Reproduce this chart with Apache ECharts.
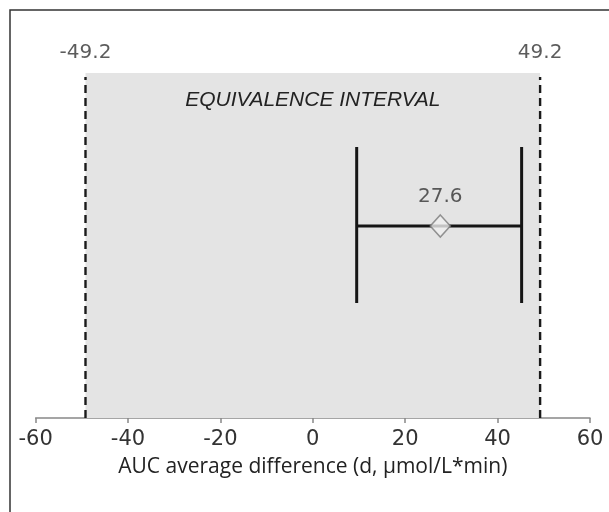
<!DOCTYPE html>
<html>
<head>
<meta charset="utf-8">
<script src="https://cdn.jsdelivr.net/npm/echarts@6/dist/echarts.min.js"></script>
<style>
html,body{margin:0;padding:0;background:#fff;}
#chart{width:609px;height:512px;}
</style>
</head>
<body>
<div id="chart"></div>
<script>
// ---- data ----
var xTicks = [-60, -40, -20, 0, 20, 40, 60];
var equivalenceBounds = [-49.2, 49.2];
var meanDifference = 27.6;
var ciBounds = [9.5, 45.2];
var intervalLabel = 'EQUIVALENCE INTERVAL';
var axisTitle = 'AUC average difference (d, \u03bcmol/L*min)';

// ---- layout (vertical positions on hidden 0..100 axis) ----
var LAYOUT = { boxTop: 86.25, dashTop: 85.25, boundLabel: 91.3, barTop: 67.75, barBottom: 28.75, barMid: 48 };

var chart = echarts.init(document.getElementById('chart'), null, {renderer: 'canvas'});

var numFont = 'DejaVu Sans';
var dashStyle = {color: '#1a1a1a', width: 2.4, type: [8, 5]};
var barStyle = {color: '#151515', width: 3};

var series = [];
equivalenceBounds.forEach(function (b, i) {
  var s = {
    type: 'line', silent: true, symbol: 'none', z: 3,
    data: [[b, 0], [b, LAYOUT.dashTop]],
    lineStyle: dashStyle
  };
  if (i === 0) {
    s.markArea = {
      silent: true,
      itemStyle: {color: '#e4e4e4'},
      label: {
        show: true, position: 'insideTop', distance: 17,
        formatter: intervalLabel,
        fontFamily: 'Liberation Sans', fontStyle: 'italic', fontSize: 21, color: '#222'
      },
      data: [[{xAxis: equivalenceBounds[0], yAxis: 0}, {xAxis: equivalenceBounds[1], yAxis: LAYOUT.boxTop}]]
    };
  }
  series.push(s);
});
series.push({
  type: 'scatter', silent: true, symbolSize: 0, z: 4,
  data: equivalenceBounds.map(function (b) { return [b, LAYOUT.boundLabel]; }),
  label: {
    show: true, position: 'inside',
    formatter: function (p) { return String(p.value[0]); },
    fontFamily: numFont, fontSize: 20, color: '#333'
  }
});
series.push({
  type: 'line', silent: true, symbol: 'none', z: 5,
  data: [[ciBounds[0], LAYOUT.barMid], [ciBounds[1], LAYOUT.barMid]],
  lineStyle: barStyle
});
ciBounds.forEach(function (c) {
  series.push({
    type: 'line', silent: true, symbol: 'none', z: 5,
    data: [[c, LAYOUT.barBottom], [c, LAYOUT.barTop]],
    lineStyle: barStyle
  });
});
series.push({
  type: 'scatter', silent: true, z: 6,
  symbol: 'diamond', symbolSize: [20, 22],
  itemStyle: {color: '#efefef', borderColor: '#7a7a7a', borderWidth: 1.6},
  data: [[meanDifference, LAYOUT.barMid]],
  label: {
    show: true, position: 'top', distance: 7,
    formatter: function (p) { return String(p.value[0]); },
    fontFamily: numFont, fontSize: 20, color: '#333'
  }
});

chart.setOption({
  animation: false,
  backgroundColor: '#fff',
  grid: {left: 35.6, right: 19, top: 18, bottom: 94, containLabel: false},
  xAxis: {
    type: 'value', min: xTicks[0], max: xTicks[xTicks.length - 1], interval: 20,
    splitLine: {show: false},
    axisLine: {show: true, onZero: false, lineStyle: {color: '#888', width: 1.5}},
    axisTick: {show: true, length: 5, inside: false, lineStyle: {color: '#888', width: 1.5}},
    axisLabel: {margin: 11, fontFamily: numFont, fontSize: 21, color: '#333'},
    name: axisTitle, nameLocation: 'middle', nameGap: 39,
    nameTextStyle: {fontFamily: 'Open Sans', fontSize: 21, color: '#222'}
  },
  yAxis: {type: 'value', min: 0, max: 100, show: false},
  graphic: [{
    type: 'rect', silent: true, z: 100,
    shape: {x: 10, y: 10, width: 700, height: 700},
    style: {fill: 'none', stroke: '#333', lineWidth: 1.5}
  }],
  series: series
});
</script>
</body>
</html>
